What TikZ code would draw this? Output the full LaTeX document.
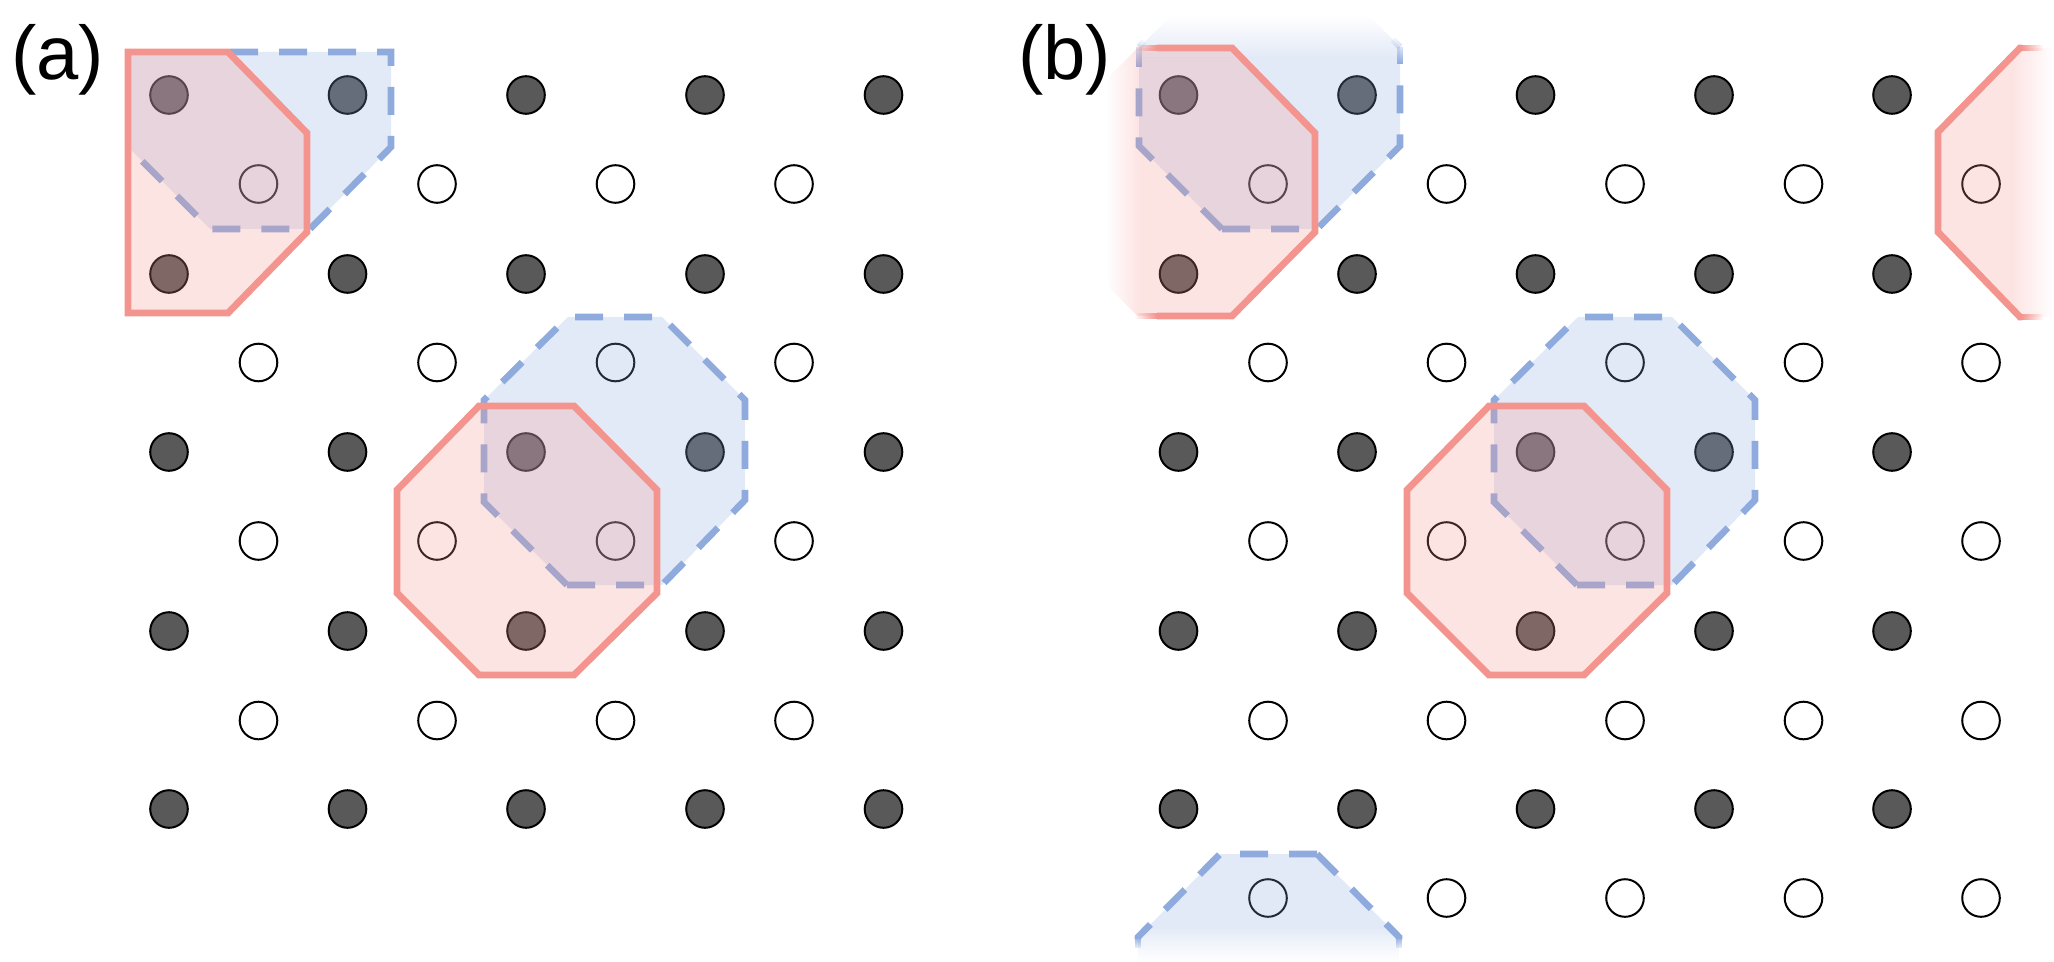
\documentclass[tikz,border=0pt]{standalone}
\usepackage{fontspec}
\setmainfont{Liberation Sans}
\definecolor{redc}{HTML}{F4948F}
\definecolor{bluec}{HTML}{8FABDE}
\definecolor{dotc}{HTML}{595959}
\tikzset{
  dark/.style={circle,draw=black,fill=dotc,line width=1.5pt,minimum size=28.2pt,inner sep=0pt,outer sep=0pt},
  light/.style={circle,draw=black,fill=white,line width=1.5pt,minimum size=28.2pt,inner sep=0pt,outer sep=0pt},
  redfill/.style={fill=redc,fill opacity=.25,draw=none},
  redline/.style={draw=redc,line width=5.1pt,miter limit=10},
  bluefill/.style={fill=bluec,fill opacity=.25,draw=none},
  bluesolid/.style={draw=bluec,line width=5pt,miter limit=10},
  blueline/.style={bluesolid,dash pattern=on 21pt off 15.75pt},
  lab/.style={font=\fontsize{57}{57}\selectfont,inner sep=0pt,anchor=base west}
}
% line piece from (#1,#2) to (#3,#4) whose opacity runs from #5 to #6, style #7
\newcommand\FadeSeg[7]{%
  \pgfmathtruncatemacro\nn{max(1,round(veclen(#3-#1,#4-#2)))}%
  \foreach \k in {1,...,\nn}{%
    \pgfmathsetmacro\tta{(\k-1)/\nn}%
    \pgfmathsetmacro\ttb{\k/\nn}%
    \pgfmathsetmacro\aa{#5+(#6-#5)*(\k-.5)/\nn}%
    \path[#7,draw opacity=\aa] ({#1+(#3-#1)*\tta},{#2+(#4-#2)*\tta}) -- ({#1+(#3-#1)*\ttb},{#2+(#4-#2)*\ttb});
  }%
}
\begin{document}
\begin{tikzpicture}[x=.75pt,y=-.75pt]
\useasboundingbox (0,0) rectangle (2054,962);
\clip (0,0) rectangle (2054,962);
% lattice (a)
\foreach \r/\y in {0/95,1/274,2/452,3/631,4/809}{
  \foreach \c/\x in {0/169,1/347.5,2/526,3/705,4/883.5}{
    \node[dark] (ad\r\c) at (\x,\y) {};
  }
}
\foreach \r/\y in {0/184,1/362.5,2/541,3/720.5}{
  \foreach \c/\x in {0/258.5,1/437,2/615.5,3/794}{
    \node[light] (al\r\c) at (\x,\y) {};
  }
}
% lattice (b)
\foreach \r/\y in {0/95,1/274,2/452,3/631,4/809}{
  \foreach \c/\x in {0/1178.5,1/1357,2/1535.5,3/1714,4/1892}{
    \node[dark] (bd\r\c) at (\x,\y) {};
  }
}
\foreach \r/\y in {0/184,1/362.5,2/541,3/720.5,4/898}{
  \foreach \c/\x in {0/1268,1/1446.5,2/1625,3/1803.5,4/1981}{
    \node[light] (bl\r\c) at (\x,\y) {};
  }
}
% (a) top-left
\path[bluefill] (128,52) -- (391,52) -- (391,147) -- (310,229) -- (210,229) -- (128,147) -- cycle;
\path[blueline] (230,52) -- (391,52) -- (391,147) -- (310,229) -- (210,229) -- (128,147);
\path[redfill] (128,52) -- (228,52) -- (307,133) -- (307,232) -- (228,313) -- (128,313) -- cycle;
\path[redline] (128,52) -- (228,52) -- (307,133) -- (307,232) -- (228,313) -- (128,313) -- cycle;
% (a) centre
\path[bluefill] (567,585) -- (662,585) -- (745,500) -- (745,400) -- (662,317) -- (568,317) -- (484,400) -- (484,502) -- cycle;
\path[blueline] (567,585) -- (662,585) -- (745,500) -- (745,400) -- (662,317) -- (568,317);
\path[blueline] (567,585) -- (484,502) -- (484,400) -- (568,317);
\path[redfill] (479,406) -- (574,406) -- (657,490) -- (657,593) -- (574,675) -- (479,675) -- (397,593) -- (397,490) -- cycle;
\path[redline] (479,406) -- (574,406) -- (657,490) -- (657,593) -- (574,675) -- (479,675) -- (397,593) -- (397,490) -- cycle;
% (b) centre
\path[bluefill] (1577,585) -- (1672,585) -- (1755,500) -- (1755,400) -- (1672,317) -- (1578,317) -- (1494,400) -- (1494,502) -- cycle;
\path[blueline] (1577,585) -- (1672,585) -- (1755,500) -- (1755,400) -- (1672,317) -- (1578,317);
\path[blueline] (1577,585) -- (1494,502) -- (1494,400) -- (1578,317);
\path[redfill] (1489,406) -- (1584,406) -- (1667,490) -- (1667,593) -- (1584,675) -- (1489,675) -- (1407,593) -- (1407,490) -- cycle;
\path[redline] (1489,406) -- (1584,406) -- (1667,490) -- (1667,593) -- (1584,675) -- (1489,675) -- (1407,593) -- (1407,490) -- cycle;
% (b) top blue, fading upward
\path[bluefill] (1222,229) -- (1317,229) -- (1400,146) -- (1400,58) -- (1139,58) -- (1139,146) -- cycle;
\foreach \y in {15,...,57}{
  \pgfmathsetmacro\ins{max(0,47-(\y+.5))}
  \pgfmathsetmacro\fa{.25*(\y+.5-15)/43}
  \fill[bluec,fill opacity=\fa] ({1139+\ins},\y) rectangle ({1400-\ins},\y+1);
}
\path[blueline] (1222,229) -- (1317,229) -- (1400,146) -- (1400,65);
\path[blueline] (1222,229) -- (1139,146) -- (1139,68);
\FadeSeg{1400}{64.4}{1400}{47}{1}{.3}{bluesolid}
\FadeSeg{1400}{47}{1392.5}{39.5}{.3}{.08}{bluesolid}
\FadeSeg{1139}{67.4}{1139}{47}{1}{.3}{bluesolid}
\FadeSeg{1139}{47}{1144.4}{41.6}{.3}{.08}{bluesolid}
% (b) top red at the left, fading leftward
\path[redfill] (1140,48) -- (1232,48) -- (1315,133) -- (1315,232) -- (1232,316) -- (1140,316) -- cycle;
\foreach \x in {1105,...,1139}{
  \pgfmathsetmacro\ins{max(0,(1137-(\x+.5))*1.024)}
  \pgfmathsetmacro\fa{.25*(\x+.5-1105)/35}
  \fill[redc,fill opacity=\fa] (\x,{48+\ins}) rectangle (\x+1,{316-\ins});
}
\path[redline] (1157,48) -- (1232,48) -- (1315,133) -- (1315,232) -- (1232,316) -- (1157,316);
\FadeSeg{1157}{48}{1135}{48}{1}{0}{redline}
\FadeSeg{1157}{316}{1135}{316}{1}{0}{redline}
% (b) top red at the right, fading rightward
\path[redfill] (2013,55.2) -- (1938,132) -- (1938,232) -- (2013,309.8) -- cycle;
\foreach \x in {2013,...,2053}{
  \pgfmathsetmacro\ins{max(0,(2020-(\x+.5))*1.024)}
  \pgfmathsetmacro\fa{.25*(2054-\x-.5)/41}
  \fill[redc,fill opacity=\fa] (\x,{48+\ins}) rectangle (\x+1,{317-\ins});
}
\path[redline] (2022,48) -- (2020,48) -- (1938,132) -- (1938,232) -- (2020,317) -- (2022,317);
\FadeSeg{2022}{48}{2044}{48}{1}{0}{redline}
\FadeSeg{2022}{317}{2044}{317}{1}{0}{redline}
% (b) bottom blue, fading downward
\path[bluefill] (1220,854) -- (1317,854) -- (1389,927) -- (1148,927) -- cycle;
\foreach \y in {927,...,961}{
  \pgfmathsetmacro\ins{max(0,937-(\y+.5))}
  \pgfmathsetmacro\fa{.25*(962-\y-.5)/35}
  \fill[bluec,fill opacity=\fa] ({1138+\ins},\y) rectangle ({1399-\ins},\y+1);
}
\path[blueline] (1317,854) -- (1399,937) -- (1399,939);
\path[blueline] (1317,854) -- (1220,854) -- (1138,937) -- (1138,939);
\FadeSeg{1399}{939}{1399}{948}{.85}{.2}{bluesolid}
\FadeSeg{1138}{939}{1138}{948}{.85}{.2}{bluesolid}
\node[lab] (la) at (11,80) {(a)};
\node[lab] (lb) at (1018,80) {(b)};
\end{tikzpicture}
\end{document}
